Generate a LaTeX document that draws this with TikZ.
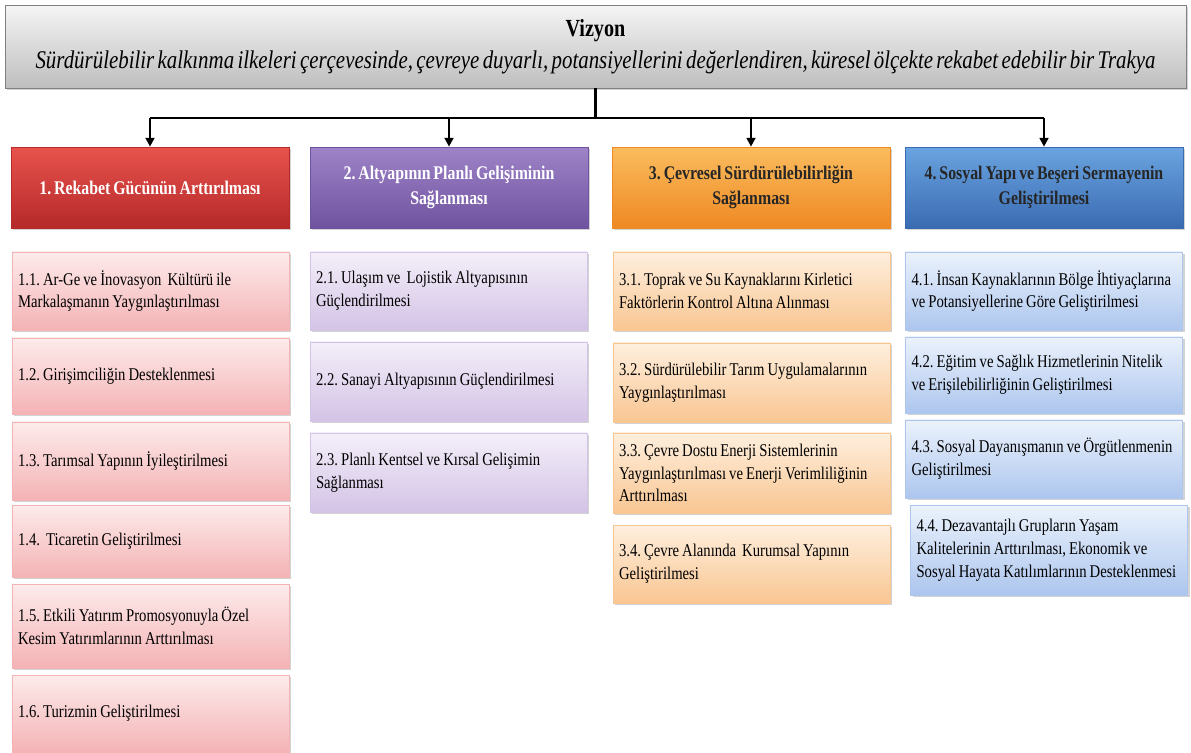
\documentclass[tikz,border=0pt]{standalone}
\usepackage{fontspec}
\setmainfont{Liberation Serif}
\newfontfamily\narrow{Liberation Serif}[FakeStretch=0.82]
\newcommand\tightsp{\spaceskip=0.13em plus 0.04em minus 0.02em\relax}
\newcommand\headsp{\spaceskip=0.15em plus 0.04em minus 0.02em\relax}
\newcommand\subsp{\spaceskip=0.17em plus 0.04em minus 0.02em\relax}
\frenchspacing
\usetikzlibrary{arrows.meta,positioning,shadows}

% colours of the four axes (top / bottom of the gradient)
\definecolor{visT}{HTML}{F5F5F5}
\definecolor{visB}{HTML}{BEBEBE}
\definecolor{redT}{HTML}{E8534C}
\definecolor{redB}{HTML}{B5292A}
\definecolor{purT}{HTML}{9E83C8}
\definecolor{purB}{HTML}{6F539F}
\definecolor{orgT}{HTML}{FBBC5E}
\definecolor{orgB}{HTML}{EE8923}
\definecolor{bluT}{HTML}{6AA4E0}
\definecolor{bluB}{HTML}{3A6BB2}
\definecolor{pinkT}{HTML}{FDEBEB}
\definecolor{pinkB}{HTML}{F4B3B5}
\definecolor{lavT}{HTML}{F4EFF9}
\definecolor{lavB}{HTML}{D3C3E6}
\definecolor{peachT}{HTML}{FEEFDE}
\definecolor{peachB}{HTML}{F9C692}
\definecolor{skyT}{HTML}{EBF2FC}
\definecolor{skyB}{HTML}{ADC6EE}

\tikzset{
  box/.style={rectangle, inner xsep=0.12cm, inner ysep=2pt,
    drop shadow={opacity=0.35, shadow xshift=1.2pt, shadow yshift=-1.2pt}},
  head/.style={box, draw=#1B, top color=#1T, bottom color=#1B, inner xsep=0.05cm,
    minimum width=5.56cm, minimum height=1.62cm, text width=5.46cm, align=flush center,
    font=\narrow\bfseries\fontsize{11}{14}\selectfont\headsp},
  sub/.style={box, draw=#1B, top color=#1T, bottom color=#1B,
    minimum width=5.54cm, text width=5.3cm, align=flush left,
    font=\narrow\fontsize{10.2}{13}\selectfont\subsp},
  bus/.style={line width=1.3pt},
  arr/.style={bus, -{Triangle[length=5pt, width=5pt]}}
}

\begin{document}
\begin{tikzpicture}[x=0.02cm, y=-0.02cm]
\useasboundingbox (0,0) rectangle (1191,753);

% Vision
\node[box, draw=gray, top color=visT, bottom color=visB,
  minimum width=23.62cm, minimum height=1.66cm, align=center] (vis) at (595.5,46.5)
  {{\narrow\bfseries\fontsize{14}{16}\selectfont Vizyon}\\[4pt]
   {\narrow\itshape\fontsize{14.5}{16}\selectfont\tightsp Sürdürülebilir kalkınma ilkeleri çerçevesinde, çevreye duyarlı, potansiyellerini değerlendiren, küresel ölçekte rekabet edebilir bir Trakya}};

% Axes
\node[head=red, text=white] (h1) at (150,187.5) {1. Rekabet Gücünün Arttırılması};
\node[head=pur, text=white] (h2) at (449,187.5) {2. Altyapının Planlı Gelişiminin\\Sağlanması};
\node[head=org, text=black!85] (h3) at (751,187.5) {3. Çevresel Sürdürülebilirliğin\\Sağlanması};
\node[head=blu, text=black!85] (h4) at (1044,187.5) {4. Sosyal Yapı ve Beşeri Sermayenin\\Geliştirilmesi};

% Connectors
\coordinate (bus) at (595.5,118);
\draw[bus] (vis.south) -- (bus);
\draw[bus] (h1.north |- bus) -- (h4.north |- bus);
\foreach \h in {h1,h2,h3,h4}
  \draw[arr] (\h.north |- bus) -- (\h.north);

% Objectives of axis 1
\foreach \y/\hh/\t [count=\i] in {
  291/78/{1.1. Ar-Ge ve İnovasyon\ \ Kültürü ile\\Markalaşmanın Yaygınlaştırılması},
  376/76/{1.2. Girişimciliğin Desteklenmesi},
  461/78/{1.3. Tarımsal Yapının İyileştirilmesi},
  541/72/{1.4.\ \ Ticaretin Geliştirilmesi},
  626/84/{1.5. Etkili Yatırım Promosyonuyla Özel\\Kesim Yatırımlarının Arttırılması},
  713.5/77/{1.6. Turizmin Geliştirilmesi}}
  \node[sub=pink, minimum height=\hh*0.02cm] (s1-\i) at (150.5,\y) {\t};

% Objectives of axis 2
\foreach \y/\hh/\t [count=\i] in {
  291/78/{2.1. Ulaşım ve\ \ Lojistik Altyapısının\\Güçlendirilmesi},
  381.5/79/{2.2. Sanayi Altyapısının Güçlendirilmesi},
  472.5/79/{2.3. Planlı Kentsel ve Kırsal Gelişimin\\Sağlanması}}
  \node[sub=lav, minimum height=\hh*0.02cm] (s2-\i) at (448.5,\y) {\t};

% Objectives of axis 3
\foreach \y/\hh/\t [count=\i] in {
  291/78/{3.1. Toprak ve Su Kaynaklarını Kirletici\\Faktörlerin Kontrol Altına Alınması},
  382.5/79/{3.2. Sürdürülebilir Tarım Uygulamalarının\\Yaygınlaştırılması},
  473/80/{3.3. Çevre Dostu Enerji Sistemlerinin\\Yaygınlaştırılması ve Enerji Verimliliğinin\\Arttırılması},
  564/78/{3.4. Çevre Alanında\ \ Kurumsal Yapının\\Geliştirilmesi}}
  \node[sub=peach, minimum height=\hh*0.02cm] (s3-\i) at (751.5,\y) {\t};

% Objectives of axis 4
\foreach \y/\hh/\t [count=\i] in {
  291/78/{4.1. İnsan Kaynaklarının Bölge İhtiyaçlarına\\ve Potansiyellerine Göre Geliştirilmesi},
  375/76/{4.2. Eğitim ve Sağlık Hizmetlerinin Nitelik\\ve Erişilebilirliğinin Geliştirilmesi},
  459/78/{4.3. Sosyal Dayanışmanın ve Örgütlenmenin\\Geliştirilmesi}}
  \node[sub=sky, minimum height=\hh*0.02cm] (s4-\i) at (1044,\y) {\t};
\node[sub=sky, minimum height=1.8cm] (s4-4) at (1049,550)
  {4.4. Dezavantajlı Grupların Yaşam\\Kalitelerinin Arttırılması, Ekonomik ve\\Sosyal Hayata Katılımlarının Desteklenmesi};

\end{tikzpicture}
\end{document}
